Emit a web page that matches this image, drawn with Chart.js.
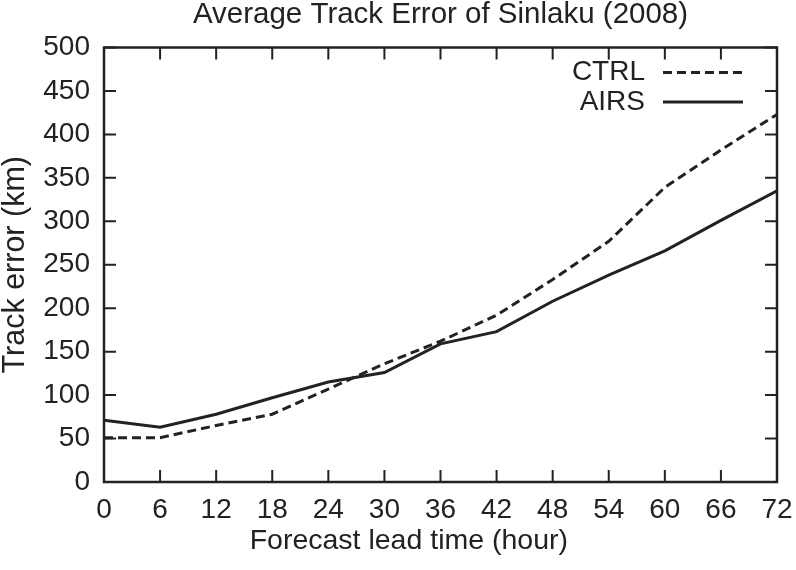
<!DOCTYPE html>
<html>
<head>
<meta charset="utf-8">
<title>Average Track Error of Sinlaku (2008)</title>
<script src="https://cdn.jsdelivr.net/npm/chart.js@4.4.1/dist/chart.umd.min.js"></script>
<style>
    html, body { margin: 0; padding: 0; background: #fff; }
    #wrap { width: 796px; height: 570px; }
</style>
</head>
<body>
<div id="wrap"><canvas id="trackChart" width="796" height="570"></canvas></div>
<script>
// values
const leadHours = [0, 6, 12, 18, 24, 30, 36, 42, 48, 54, 60, 66, 72];
const ctrlError = [51, 51, 65, 78, 107, 136, 162, 192, 233, 277, 339, 382, 423];
const airsError = [71, 63, 78, 97, 115, 126, 159, 173, 208, 238, 266, 301, 335];
const seriesNames = ['CTRL', 'AIRS'];

const ink = '#222222';
const fontFamily = '"Liberation Sans", Arial, Helvetica, sans-serif';

// gnuplot style frame with inward ticks on all four sides
const frameTicks = {
    id: 'frameTicks',
    afterDatasetsDraw(chart) {
        const { ctx, chartArea: a, scales: { x, y } } = chart;
        ctx.save();
        ctx.strokeStyle = ink;
        ctx.lineWidth = 2;
        ctx.beginPath();
        x.ticks.forEach(t => {
            const px = x.getPixelForValue(t.value);
            ctx.moveTo(px, a.bottom); ctx.lineTo(px, a.bottom - 12);
            ctx.moveTo(px, a.top); ctx.lineTo(px, a.top + 12);
        });
        y.ticks.forEach(t => {
            const py = y.getPixelForValue(t.value);
            ctx.moveTo(a.left, py); ctx.lineTo(a.left + 12, py);
            ctx.moveTo(a.right, py); ctx.lineTo(a.right - 12, py);
        });
        ctx.stroke();
        ctx.lineWidth = 2.5;
        ctx.strokeRect(a.left, a.top, a.right - a.left, a.bottom - a.top);
        ctx.restore();
    }
};

// key in the top right corner: label first, line sample after it
const lineKey = {
    id: 'lineKey',
    afterDraw(chart) {
        const { ctx, chartArea: a } = chart;
        ctx.save();
        ctx.font = '28px ' + fontFamily;
        ctx.fillStyle = ink;
        ctx.textAlign = 'right';
        ctx.textBaseline = 'middle';
        chart.data.datasets.forEach((ds, i) => {
            const yy = a.top + 25 + i * 29.5;
            ctx.fillText(ds.label, a.right - 132, yy);
            ctx.strokeStyle = ds.borderColor;
            ctx.lineWidth = ds.borderWidth;
            ctx.setLineDash(ds.borderDash || []);
            ctx.beginPath();
            ctx.moveTo(a.right - 114, yy);
            ctx.lineTo(a.right - 34, yy);
            ctx.stroke();
        });
        ctx.restore();
    }
};

const ctx = document.getElementById('trackChart').getContext('2d');
new Chart(ctx, {
    type: 'line',
    data: {
        datasets: [
            {
                label: seriesNames[0],
                data: leadHours.map((h, i) => ({ x: h, y: ctrlError[i] })),
                borderColor: ink,
                borderWidth: 3,
                borderDash: [9, 5],
                pointRadius: 0,
                tension: 0,
                fill: false
            },
            {
                label: seriesNames[1],
                data: leadHours.map((h, i) => ({ x: h, y: airsError[i] })),
                borderColor: ink,
                borderWidth: 3,
                pointRadius: 0,
                tension: 0,
                fill: false
            }
        ]
    },
    options: {
        responsive: false,
        animation: false,
        layout: { padding: { left: 0, right: 19, top: 0, bottom: 0 } },
        plugins: {
            legend: { display: false },
            tooltip: { enabled: false },
            title: {
                display: true,
                text: 'Average Track Error of Sinlaku (2008)',
                fullSize: false,
                color: ink,
                font: { family: fontFamily, size: 29.5, weight: 'normal', lineHeight: 1.0 },
                padding: { top: 0, bottom: 18 }
            }
        },
        scales: {
            x: {
                type: 'linear',
                min: 0,
                max: 72,
                grid: { display: false, drawTicks: false },
                border: { display: false },
                ticks: {
                    stepSize: 6,
                    color: ink,
                    padding: 11,
                    maxRotation: 0,
                    font: { family: fontFamily, size: 28 }
                },
                title: {
                    display: true,
                    text: 'Forecast lead time (hour)        ',
                    color: ink,
                    font: { family: fontFamily, size: 28.5 },
                    padding: { top: 0, bottom: 12 }
                },
                afterFit(scale) {
                    scale.height = 88;
                    scale.paddingLeft = 0;
                    scale.paddingRight = 0;
                }
            },
            y: {
                min: 0,
                max: 500,
                grid: { display: false, drawTicks: false },
                border: { display: false },
                ticks: {
                    stepSize: 50,
                    color: ink,
                    padding: 14,
                    font: { family: fontFamily, size: 28 }
                },
                title: {
                    display: true,
                    text: 'Track error (km)',
                    color: ink,
                    font: { family: fontFamily, size: 30.5, lineHeight: 1.0 },
                    padding: { top: 0, bottom: 0 }
                },
                afterFit(scale) { scale.width = 104; }
            }
        }
    },
    plugins: [frameTicks, lineKey]
});
</script>
</body>
</html>
